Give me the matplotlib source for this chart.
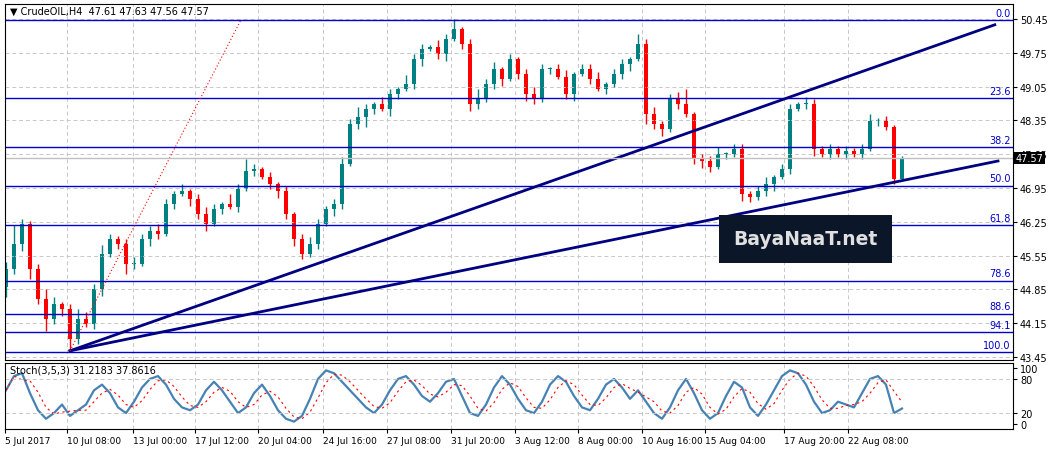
import matplotlib.pyplot as plt
import numpy as np

closes = [45.27, 45.79, 46.21, 45.27, 44.65, 44.24, 44.55, 44.45, 43.82, 44.24,
          44.13, 44.86, 45.58, 45.90, 45.79, 45.38, 45.38, 45.90, 46.06, 46.00,
          46.62, 46.83, 46.89, 46.72, 46.41, 46.21, 46.52, 46.62, 46.56, 46.93,
          47.30, 47.34, 47.18, 47.03, 46.89, 46.41, 45.90, 45.58, 45.79, 46.21,
          46.52, 46.62, 47.45, 48.28, 48.42, 48.59, 48.69, 48.59, 48.90, 49.00,
          49.10, 49.62, 49.83, 49.87, 49.73, 50.04, 50.24, 49.93, 48.69, 48.79,
          49.10, 49.41, 49.21, 49.62, 49.31, 48.90, 48.79, 49.41, 49.41, 49.25,
          48.90, 49.31, 49.41, 49.21, 49.00, 49.10, 49.31, 49.52, 49.62, 49.93,
          48.48, 48.28, 48.17, 48.79, 48.69, 48.48, 47.55, 47.51, 47.39, 47.65,
          47.65, 47.76, 46.83, 46.76, 46.89, 47.03, 47.18, 47.34, 48.59, 48.69,
          48.69, 47.76, 47.65, 47.76, 47.65, 47.72, 47.65, 47.76, 48.34, 48.34,
          48.21, 47.14, 47.57]
first_open = 44.90
wick_up = [0.15, 0.40, 0.10, 0.05, 0.10, 0.20, 0.15, 0.05, 0.10, 0.20,
           0.15, 0.10, 0.20, 0.10, 0.05, 0.10, 0.15, 0.10, 0.10, 0.15,
           0.10, 0.05, 0.15, 0.05, 0.10, 0.15, 0.10, 0.05, 0.20, 0.10,
           0.25, 0.10, 0.05, 0.10, 0.05, 0.10, 0.05, 0.10, 0.15, 0.10,
           0.05, 0.10, 0.15, 0.10, 0.20, 0.10, 0.05, 0.15, 0.10, 0.05,
           0.20, 0.10, 0.10, 0.05, 0.15, 0.10, 0.20, 0.05, 0.10, 0.20,
           0.10, 0.15, 0.05, 0.10, 0.05, 0.10, 0.15, 0.10, 0.05, 0.10,
           0.15, 0.05, 0.10, 0.10, 0.15, 0.05, 0.10, 0.10, 0.05, 0.20,
           0.10, 0.15, 0.05, 0.10, 0.15, 0.30, 0.05, 0.10, 0.10, 0.15,
           0.05, 0.10, 0.10, 0.05, 0.10, 0.15, 0.05, 0.10, 0.10, 0.05,
           0.15, 0.10, 0.05, 0.10, 0.05, 0.10, 0.05, 0.10, 0.15, 0.05,
           0.10, 0.05, 0.05]
wick_dn = [0.20, 0.10, 0.15, 0.20, 0.10, 0.25, 0.10, 0.15, 0.20, 0.10,
           0.05, 0.10, 0.15, 0.05, 0.10, 0.20, 0.10, 0.05, 0.15, 0.10,
           0.05, 0.10, 0.05, 0.15, 0.10, 0.15, 0.05, 0.10, 0.05, 0.10,
           0.05, 0.10, 0.05, 0.10, 0.15, 0.10, 0.15, 0.10, 0.05, 0.10,
           0.05, 0.15, 0.10, 0.05, 0.10, 0.20, 0.10, 0.05, 0.15, 0.10,
           0.05, 0.10, 0.15, 0.05, 0.10, 0.15, 0.05, 0.10, 0.15, 0.10,
           0.05, 0.10, 0.15, 0.05, 0.10, 0.15, 0.10, 0.05, 0.10, 0.05,
           0.10, 0.15, 0.05, 0.10, 0.05, 0.10, 0.05, 0.10, 0.15, 0.05,
           0.20, 0.10, 0.15, 0.05, 0.10, 0.05, 0.10, 0.15, 0.10, 0.05,
           0.10, 0.05, 0.15, 0.10, 0.05, 0.10, 0.15, 0.05, 0.10, 0.05,
           0.10, 0.15, 0.05, 0.10, 0.05, 0.10, 0.05, 0.10, 0.05, 0.10,
           0.05, 0.10, 0.05]

stoch_k = [60, 85, 90, 55, 25, 10, 20, 35, 15, 25,
           35, 60, 70, 55, 30, 20, 40, 65, 80, 85,
           70, 45, 30, 25, 35, 60, 75, 60, 40, 20,
           30, 55, 70, 50, 25, 10, 5, 15, 45, 80,
           95, 90, 75, 60, 45, 30, 20, 35, 60, 80,
           85, 70, 50, 40, 55, 75, 80, 50, 20, 15,
           35, 65, 85, 70, 45, 25, 20, 40, 70, 85,
           75, 50, 30, 25, 45, 70, 80, 65, 45, 60,
           40, 20, 10, 30, 60, 80, 55, 25, 10, 20,
           50, 75, 65, 30, 15, 35, 60, 85, 95, 90,
           70, 40, 20, 25, 40, 35, 30, 55, 80, 85,
           70, 20, 28]

dates = ['5 Jul 2017', '10 Jul 08:00', '13 Jul 00:00', '17 Jul 12:00', '20 Jul 04:00',
         '24 Jul 16:00', '27 Jul 08:00', '31 Jul 20:00', '3 Aug 12:00', '8 Aug 00:00',
         '10 Aug 16:00', '15 Aug 04:00', '17 Aug 20:00', '22 Aug 08:00']
date_pos = [-0.1, 7.6, 15.9, 23.6, 31.5, 39.6, 47.6, 55.6, 63.6, 71.5, 79.5, 87.4, 97.2, 105.2]

fib_levels = ['0.0', '23.6', '38.2', '50.0', '61.8', '78.6', '88.6', '94.1', '100.0']
fib_prices = [50.43, 48.81, 47.80, 47.00, 46.18, 45.03, 44.35, 43.96, 43.55]
price_ticks = [50.45, 49.75, 49.05, 48.35, 47.65, 46.95, 46.25, 45.55, 44.85, 44.15, 43.45]

W, H = 1053, 452
fig = plt.figure(figsize=(W / 100, H / 100), dpi=100)
fig.patch.set_facecolor('white')
ax = fig.add_axes([5 / W, 1 - 361 / H, 1008 / W, 356 / H])
sx = fig.add_axes([5 / W, 1 - 430 / H, 1008 / W, 66 / H], sharex=ax)

n = len(closes)
idx = np.arange(n)
opens = [first_open] + closes[:-1]
for i in idx:
    o, c = opens[i], closes[i]
    hi = max(o, c) + wick_up[i]
    lo = min(o, c) - wick_dn[i]
    col = '#008080' if c >= o else '#ff0000'
    ax.vlines(i, lo, hi, color=col, lw=1)
    ax.bar(i, max(abs(c - o), 0.02), bottom=min(o, c), width=0.4, color=col, lw=0)

for lab, p in zip(fib_levels, fib_prices):
    ax.axhline(p, color='#0000cc', lw=1)
    ax.text(125.6, p + 0.05, lab, color='#0000cc', fontsize=7, ha='right', va='bottom')

ax.plot([8, 123.6], [43.58, 50.33], color='#000080', lw=2)
ax.plot([8, 124], [43.58, 47.51], color='#000080', lw=2)
ax.plot([8, 29.3], [43.58, 50.41], color='red', lw=0.8, ls=(0, (1, 2)))
ax.axhline(closes[-1], color='#c0c0c0', lw=1)

ax.set_xlim(-0.125, 125.875)
ax.set_ylim(43.39, 50.76)
ax.yaxis.tick_right()
ax.set_yticks(price_ticks)
ax.set_yticklabels(['%.2f' % t for t in price_ticks], fontsize=7)
ax.tick_params(axis='y', length=3, pad=2)
ax.tick_params(axis='x', length=0, labelbottom=False)
ax.set_xticks(np.arange(3.6, 126, 4))
ax.grid(True, color='#c8c8c8', ls=(0, (4, 3)), lw=0.7)
ax.text(0.005, 0.995, '\u25bc CrudeOIL,H4  47.61 47.63 47.56 47.57', transform=ax.transAxes,
        fontsize=7, va='top', ha='left', family=['DejaVu Sans'])
ax.text(126.2, closes[-1], '%.2f' % closes[-1], fontsize=7, color='white', va='center', ha='left',
        bbox=dict(facecolor='black', edgecolor='none', pad=1), clip_on=False)
ax.text(0.794, 0.34, 'BayaNaaT.net', transform=ax.transAxes, fontsize=13.5, color='#e0e0e0',
        ha='center', va='center', fontweight='bold',
        bbox=dict(facecolor='#0b1628', edgecolor='none', boxstyle='square,pad=0.75'))

k = np.array(stoch_k, dtype=float)
d = np.convolve(k, np.ones(3) / 3, mode='full')[:n]
d[:2] = k[:2]
sx.plot(idx, k, color='#4682b4', lw=1.6)
sx.plot(idx, d, color='red', lw=0.8, ls=(0, (2, 3)))
sx.set_ylim(-8, 108)
sx.axhline(80, color='#c8c8c8', ls=(0, (4, 3)), lw=0.7)
sx.axhline(20, color='#c8c8c8', ls=(0, (4, 3)), lw=0.7)
sx.yaxis.tick_right()
sx.set_yticks([100, 80, 20, 0])
sx.set_yticklabels(['100', '80', '20', '0'], fontsize=7)
sx.tick_params(axis='y', length=3, pad=2)
sx.set_xticks(date_pos)
sx.set_xticklabels(dates, fontsize=6.5, ha='left')
sx.tick_params(axis='x', length=3, pad=2)
sx.grid(True, axis='x', color='#c8c8c8', ls=(0, (4, 3)), lw=0.7)
sx.text(0.005, 0.97, 'Stoch(3,5,3) 31.2183 37.8616', transform=sx.transAxes, fontsize=7, va='top')

fig.savefig('out.png', dpi=100)
